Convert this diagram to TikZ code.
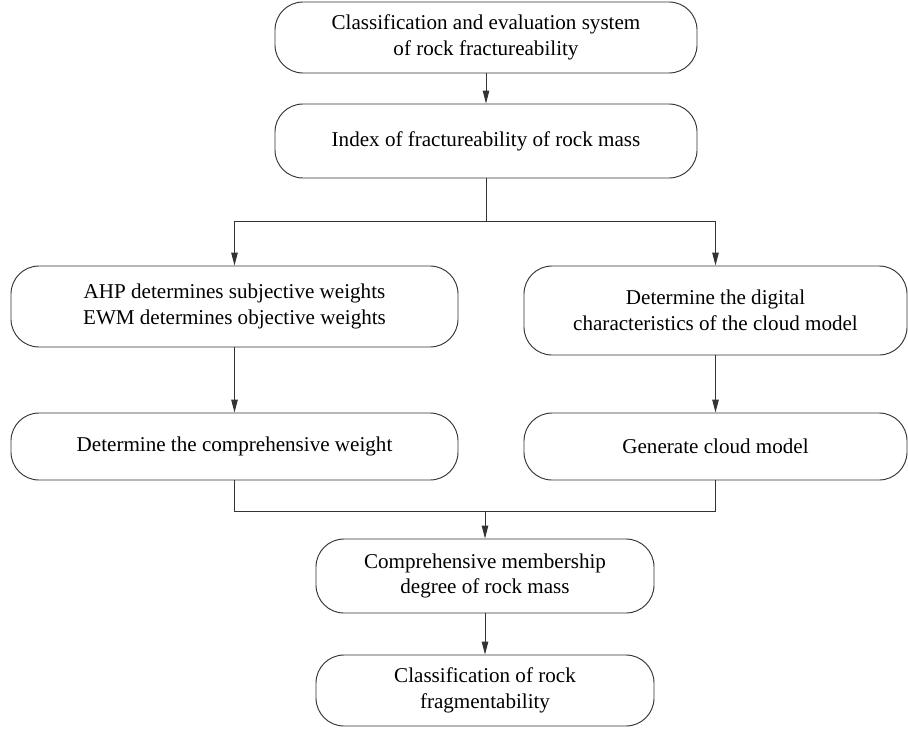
\documentclass[tikz,border=0pt]{standalone}
\usepackage{fontspec}
\setmainfont{Liberation Serif}
\usepackage{tikz}
\usetikzlibrary{arrows.meta}
\tikzset{
    rounded-box/.style = {draw=black!80, fill=white, line width=0.8pt, rectangle, rounded corners=0.84cm, align=center, inner sep=2pt, font=\fontsize{18}{22}\selectfont},
    flow-line/.style = {draw=black!80, line width=0.8pt},
    flow-arrow/.style = {flow-line, -{Triangle[length=11pt,width=5.5pt]}},
}

\begin{document}
\begin{tikzpicture}[x=0.03cm, y=-0.03cm]
\useasboundingbox (0,0) rectangle (908,728);
\node [rounded-box, minimum width=12.66cm, minimum height=2.13cm] (evalsys) at (486,37.5) {Classification and evaluation system\\of rock fractureability};
\node [rounded-box, minimum width=12.66cm, minimum height=2.22cm] (index) at (486,141) {Index of fractureability of rock mass};
\node [rounded-box, minimum width=13.41cm, minimum height=2.43cm] (weights) at (234.5,306.5) {AHP determines subjective weights\\EWM determines objective weights};
\node [rounded-box, minimum width=11.49cm, minimum height=2.67cm] (digital) at (715.5,310.5) {Determine the digital\\characteristics of the cloud model};
\node [rounded-box, minimum width=13.41cm, minimum height=2.01cm] (compweight) at (234.5,446.5) {Determine the comprehensive weight};
\node [rounded-box, minimum width=11.49cm, minimum height=2.01cm] (gencloud) at (715.5,446.5) {Generate cloud model};
\node [rounded-box, minimum width=10.14cm, minimum height=2.22cm] (membership) at (485,576) {Comprehensive membership\\degree of rock mass};
\node [rounded-box, minimum width=10.14cm, minimum height=2.13cm] (fragment) at (485,690.5) {Classification of rock\\fragmentability};

\coordinate (split) at (486,221);
\coordinate (merge) at (485,511);

\draw [flow-arrow] (evalsys) -- (index);
\draw [flow-line] (index) -- (split);
\draw [flow-arrow] (split) -| (weights);
\draw [flow-arrow] (split) -| (digital);
\draw [flow-arrow] (weights) -- (compweight);
\draw [flow-arrow] (digital) -- (gencloud);
\draw [flow-line] (compweight) |- (merge);
\draw [flow-line] (gencloud) |- (merge);
\draw [flow-arrow] (merge) -- (membership);
\draw [flow-arrow] (membership) -- (fragment);
\end{tikzpicture}
\end{document}
